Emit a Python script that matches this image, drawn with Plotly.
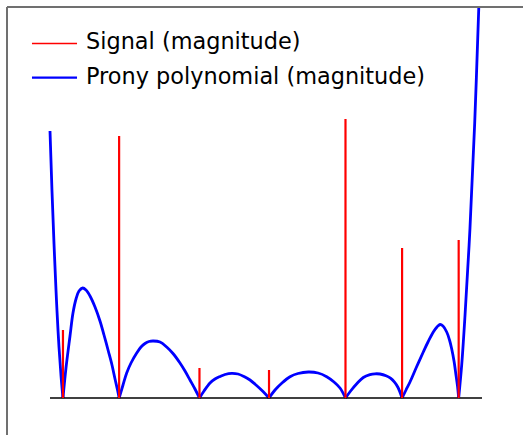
import plotly.graph_objects as go

# Signal components: locations on [0, 1] and their magnitudes
signal_pos = [0.030, 0.160, 0.346, 0.507, 0.684, 0.815, 0.946]
signal_mag = [0.68, 2.62, 0.30, 0.28, 2.79, 1.50, 1.58]

# Magnitude of the Prony polynomial, sampled along [0, 1]
prony_x = [
    0.0000, 0.0046, 0.0093, 0.0139, 0.0162, 0.0208, 0.0255, 0.0300,
    0.0370, 0.0463, 0.0532, 0.0602, 0.0671, 0.0757, 0.0833, 0.0926,
    0.1042, 0.1157, 0.1250, 0.1350, 0.1435, 0.1505, 0.1563, 0.1600,
    0.1690, 0.1775, 0.1875, 0.2007, 0.2106, 0.2199, 0.2292, 0.2391,
    0.2546, 0.2701, 0.2847, 0.3009, 0.3125, 0.3241, 0.3356, 0.3460,
    0.3565, 0.3704, 0.3819, 0.3935, 0.4051, 0.4206, 0.4352, 0.4491,
    0.4630, 0.4769, 0.4931, 0.5070,
    0.5208, 0.5370, 0.5556, 0.5741, 0.5979, 0.6204, 0.6405, 0.6574,
    0.6713, 0.6840,
    0.6968, 0.7106, 0.7252, 0.7407, 0.7523, 0.7639, 0.7778, 0.7882,
    0.7975, 0.8056, 0.8150,
    0.8241, 0.8333, 0.8484, 0.8641, 0.8750, 0.8873, 0.8958, 0.9028,
    0.9097, 0.9183, 0.9248, 0.9299, 0.9352, 0.9398, 0.9433, 0.9460,
    0.9530, 0.9606, 0.9722, 0.9831, 0.9926, 0.9977,
]
prony_y = [
    2.67, 2.07, 1.54, 1.08, 0.87, 0.51, 0.22, 0.00,
    0.30, 0.62, 0.85, 0.99, 1.07, 1.10, 1.08, 1.02,
    0.91, 0.77, 0.63, 0.47, 0.33, 0.19, 0.08, 0.00,
    0.13, 0.25, 0.35, 0.45, 0.51, 0.545, 0.565, 0.57,
    0.56, 0.51, 0.445, 0.35, 0.27, 0.18, 0.09, 0.00,
    0.07, 0.15, 0.19, 0.215, 0.235, 0.247, 0.24, 0.215,
    0.18, 0.13, 0.065, 0.00,
    0.08, 0.15, 0.213, 0.245, 0.26, 0.25, 0.213, 0.16,
    0.10, 0.00,
    0.075, 0.145, 0.205, 0.233, 0.242, 0.24, 0.223, 0.198,
    0.158, 0.105, 0.00,
    0.08, 0.16, 0.31, 0.46, 0.56, 0.66, 0.71, 0.735,
    0.72, 0.66, 0.58, 0.49, 0.37, 0.23, 0.12, 0.00,
    0.33, 0.82, 1.70, 2.75, 3.91, 4.55,
]

axis_span = [0.0, 1.0]

legend_labels = ["Signal (magnitude)", "Prony polynomial (magnitude)"]
RED = "#ff0000"
BLUE = "#0000ff"

# Split the curve at its zeros so each arch is smoothed on its own
# and the cusps at the roots stay sharp.
curve_x, curve_y = [], []
for i, (x, y) in enumerate(zip(prony_x, prony_y)):
    curve_x.append(x)
    curve_y.append(y)
    if y == 0 and 0 < i < len(prony_x) - 1:
        curve_x += [None, x]
        curve_y += [None, y]

fig = go.Figure()

# Polynomial magnitude curve
fig.add_trace(go.Scatter(
    x=curve_x, y=curve_y, mode="lines", connectgaps=False,
    line=dict(color=BLUE, width=2.8, shape="spline", smoothing=1.0),
    name=legend_labels[1], showlegend=False, hoverinfo="skip",
))

# Horizontal axis line
fig.add_trace(go.Scatter(
    x=axis_span, y=[0, 0], mode="lines",
    line=dict(color="black", width=1.6),
    showlegend=False, hoverinfo="skip",
))

# Signal stems
stem_x, stem_y = [], []
for p, m in zip(signal_pos, signal_mag):
    stem_x += [p, p, None]
    stem_y += [0, m, None]
fig.add_trace(go.Scatter(
    x=stem_x, y=stem_y, mode="lines",
    line=dict(color=RED, width=2.2),
    name=legend_labels[0], showlegend=False, hoverinfo="skip",
))

# Legend drawn by hand: sample line + label for each series
legend_rows = [(0.9147, 0.9194, RED, 1.3), (0.8348, 0.8397, BLUE, 2.2)]
for (line_y, text_y, color, lw), label in zip(legend_rows, legend_labels):
    fig.add_shape(type="line", xref="paper", yref="paper",
                  x0=0.0484, x1=0.1357, y0=line_y, y1=line_y,
                  line=dict(color=color, width=lw))
    fig.add_annotation(xref="paper", yref="paper", x=0.1492, y=text_y,
                       xanchor="left", yanchor="middle", showarrow=False,
                       text=label,
                       font=dict(family="DejaVu Sans", size=22.4, color="black"))

# Frame along the left and top edges of the plotting area
fig.add_shape(type="line", xref="paper", yref="paper",
              x0=0, x1=0, y0=0, y1=1, line=dict(color="#707070", width=2))
fig.add_shape(type="line", xref="paper", yref="paper",
              x0=0, x1=1, y0=1, y1=1, line=dict(color="#707070", width=2))

fig.update_xaxes(range=[-0.099537, 1.094907], visible=False)
fig.update_yaxes(range=[-0.37, 3.91], visible=False)
fig.update_layout(
    width=523, height=435,
    margin=dict(l=7, r=0, t=7, b=0),
    paper_bgcolor="white", plot_bgcolor="white",
    showlegend=False,
)

fig.write_html("out.html")
